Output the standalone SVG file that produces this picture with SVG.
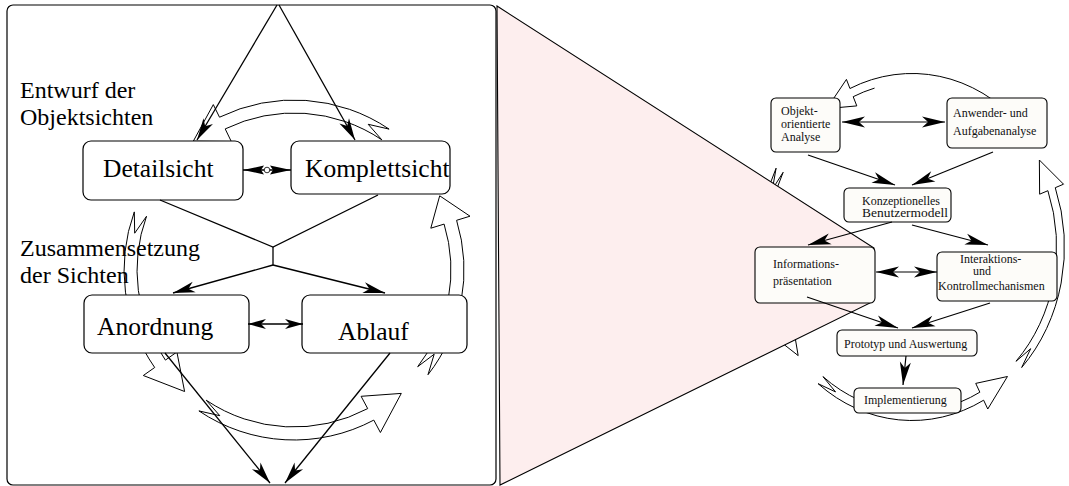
<svg xmlns="http://www.w3.org/2000/svg" width="1069" height="486" viewBox="0 0 1069 486">
  <style>
    .frame { fill: #ffffff; stroke: #000; stroke-width: 1.2; }
    .box { fill: #ffffff; stroke: #000; stroke-width: 1.2; }
    .sbox { fill: #fdfcf9; stroke: #000; stroke-width: 1.1; }
    .big { font-family: "Liberation Serif", "Times New Roman", serif; font-size: 25.5px; fill: #000; }
    .side { font-family: "Liberation Serif", "Times New Roman", serif; font-size: 24px; fill: #000; }
    .small { font-family: "Liberation Serif", "Times New Roman", serif; font-size: 12px; fill: #111; }
    .cyc { fill: none; stroke: #000; stroke-width: 1; stroke-linejoin: miter; }
    .ln { fill: none; stroke: #000; stroke-width: 1.3; }
    .lnr { fill: none; stroke: #000; stroke-width: 1.2; }
    .zoom { fill: #fdeeee; stroke: #000; stroke-width: 1.1; }
  </style>
  <defs>
    <marker id="ah" viewBox="-24 -8 26 16" markerWidth="26" markerHeight="16" refX="0" refY="0" orient="auto-start-reverse" markerUnits="userSpaceOnUse">
      <path d="M0,0 L-22,-5.5 L-16,0 L-22,5.5 Z" fill="#000"/>
    </marker>
    <marker id="ahD" viewBox="-24 -8 26 16" markerWidth="26" markerHeight="16" refX="0" refY="0" orient="auto-start-reverse" markerUnits="userSpaceOnUse">
      <path d="M0,0 L-21,-4.5 L-18,0 L-21,4.5 Z" fill="#000"/>
    </marker>
    <marker id="ahS" viewBox="-20 -8 22 16" markerWidth="22" markerHeight="16" refX="0" refY="0" orient="auto-start-reverse" markerUnits="userSpaceOnUse">
      <path d="M0,0 L-18,-5 L-13,0 L-18,5 Z" fill="#000"/>
    </marker>
    <marker id="ahR" viewBox="-26 -8 28 16" markerWidth="28" markerHeight="16" refX="0" refY="0" orient="auto-start-reverse" markerUnits="userSpaceOnUse">
      <path d="M0,0 L-23,-5.5 L-17,0 L-23,5.5 Z" fill="#000"/>
    </marker>
  </defs>

  <!-- detail panel frame -->
  <rect id="panel" class="frame" x="7" y="5" width="489" height="480" rx="6"/>

  <!-- iteration cycle of the detail panel: broad hollow arrows -->
  <g id="cycle-left" transform="translate(294,270)">
    <path class="cyc" d="M95.1,-140.9 A170,170 0 0 0 -74.5,-152.8 L-80.7,-165.4 L-100.7,-128.8 L-62.7,-128.5 L-68.8,-141.1 A157,157 0 0 1 87.8,-130.2 L74.2,-145.7 Z"/>
    <path class="cyc" d="M134.0,104.7 A170,170 0 0 0 162.6,-49.7 L176.0,-53.8 L145.7,-74.2 L136.8,-41.8 L150.1,-45.9 A157,157 0 0 1 123.7,96.7 L140.2,84.2 Z"/>
    <path class="cyc" d="M-95.1,140.9 A170,170 0 0 0 79.8,150.1 L86.4,162.5 L107.3,123.4 L67.1,126.3 L73.7,138.6 A157,157 0 0 1 -87.8,130.2 L-74.2,145.7 Z"/>
    <path class="cyc" d="M-159.7,-58.1 A170,170 0 0 0 -139.3,97.5 L-150.7,105.5 L-109.4,121.5 L-117.1,82.0 L-128.6,90.1 A157,157 0 0 1 -147.5,-53.7 L-159.3,-36.8 Z"/>
  </g>

  <!-- iteration cycle of the process overview -->
  <g id="cycle-right" transform="translate(912,247) scale(0.879,1)">
    <path class="cyc" vector-effect="non-scaling-stroke" d="M122.7,-122.7 A173.5,173.5 0 0 0 -70.6,-158.5 L-74.6,-167.6 L-96.9,-138.4 L-62.8,-141.1 L-66.9,-150.3 A164.5,164.5 0 0 1 -42.6,-158.9"/>
    <path class="cyc" vector-effect="non-scaling-stroke" d="M124.8,120.5 A173.5,173.5 0 0 0 163.0,-59.3 L172.4,-62.8 L144.9,-87.0 L145.2,-52.8 L154.6,-56.3 A164.5,164.5 0 0 1 118.3,114.3 L135.0,101.7 Z"/>
    <path class="cyc" vector-effect="non-scaling-stroke" d="M-106.8,136.7 A173.5,173.5 0 0 0 81.5,153.2 L86.2,162.0 L108.6,129.5 L72.5,136.4 L77.2,145.2 A164.5,164.5 0 0 1 -101.3,129.6 L-87.0,144.9 Z"/>
    <path class="cyc" vector-effect="non-scaling-stroke" d="M-154.6,-78.8 A173.5,173.5 0 0 0 -153.2,81.5 L-162.0,86.2 L-129.5,108.6 L-136.4,72.5 L-145.2,77.2 A164.5,164.5 0 0 1 -146.6,-74.7 L-158.8,-57.8 Z"/>
  </g>

  <!-- magnification wedge -->
  <polygon id="zoom-wedge" class="zoom" points="497,6 874,248 870,303 500,485"/>

  <!-- side labels of the detail panel -->
  <g id="label-entwurf">
    <text class="side" x="20" y="98">Entwurf der</text>
    <text class="side" x="20" y="125">Objektsichten</text>
  </g>
  <g id="label-zusammensetzung">
    <text class="side" x="20" y="256">Zusammensetzung</text>
    <text class="side" x="20" y="283">der Sichten</text>
  </g>

  <!-- detail panel nodes -->
  <g id="detailsicht">
    <rect class="box" x="83" y="141" width="160" height="59" rx="8"/>
    <text class="big" x="103" y="177">Detailsicht</text>
  </g>
  <g id="komplettsicht">
    <rect class="box" x="291" y="141" width="159" height="53" rx="8"/>
    <text class="big" x="305" y="177">Komplettsicht</text>
  </g>
  <g id="anordnung">
    <rect class="box" x="84" y="295" width="165" height="58" rx="8"/>
    <text class="big" x="97" y="335">Anordnung</text>
  </g>
  <g id="ablauf">
    <rect class="box" x="302" y="295" width="165" height="58" rx="8"/>
    <text class="big" x="338" y="340">Ablauf</text>
  </g>

  <!-- process overview nodes -->
  <g id="objektorientierte-analyse">
    <rect class="sbox" x="771" y="98" width="69" height="54" rx="5"/>
    <text class="small" x="781" y="115">Objekt-</text>
    <text class="small" x="781" y="128">orientierte</text>
    <text class="small" x="781" y="141">Analyse</text>
  </g>
  <g id="anwenderanalyse">
    <rect class="sbox" x="947" y="98" width="100" height="50" rx="5"/>
    <text class="small" x="953" y="117">Anwender- und</text>
    <text class="small" x="953" y="135">Aufgabenanalyse</text>
  </g>
  <g id="benutzermodell">
    <rect class="sbox" x="844" y="188" width="107" height="34" rx="5"/>
    <text class="small" x="862" y="205">Konzeptionelles</text>
    <text class="small" x="862" y="217" textLength="86" lengthAdjust="spacingAndGlyphs">Benutzermodell</text>
  </g>
  <g id="informationspraesentation">
    <rect class="sbox" x="755" y="247" width="120" height="56" rx="5"/>
    <text class="small" x="773" y="268">Informations-</text>
    <text class="small" x="773" y="285">präsentation</text>
  </g>
  <g id="interaktion">
    <rect class="sbox" x="937" y="252" width="120" height="49" rx="5"/>
    <text class="small" x="960" y="263">Interaktions-</text>
    <text class="small" x="973" y="275">und</text>
    <text class="small" x="938" y="290">Kontrollmechanismen</text>
  </g>
  <g id="prototyp">
    <rect class="sbox" x="837" y="330" width="140" height="26" rx="5"/>
    <text class="small" x="844" y="348">Prototyp und Auswertung</text>
  </g>
  <g id="implementierung">
    <rect class="sbox" x="854" y="388" width="107" height="25" rx="5"/>
    <text class="small" x="864" y="404">Implementierung</text>
  </g>

  <!-- connectors -->
  <g id="connectors">
    <!-- detail panel -->
    <line class="ln" x1="277" y1="5" x2="197" y2="140" marker-end="url(#ah)"/>
    <line class="ln" x1="279" y1="5" x2="355" y2="140" marker-end="url(#ah)"/>
    <polyline class="ln" points="160,200 273,247 378,195"/>
    <line class="ln" x1="273" y1="247" x2="273" y2="265"/>
    <line class="ln" x1="273" y1="265" x2="173" y2="293" marker-end="url(#ah)"/>
    <line class="ln" x1="273" y1="265" x2="385" y2="293" marker-end="url(#ah)"/>
    <line class="ln" x1="243" y1="170" x2="291" y2="170" marker-start="url(#ahD)" marker-end="url(#ahD)"/>
    <circle cx="267" cy="170" r="2.8" fill="#fff" stroke="#000" stroke-width="0.8"/>
    <line class="ln" x1="248" y1="324" x2="303" y2="324" stroke="#555" marker-start="url(#ahS)" marker-end="url(#ahS)"/>
    <line class="ln" x1="165" y1="353" x2="270" y2="483" marker-end="url(#ah)"/>
    <line class="ln" x1="390" y1="353" x2="285" y2="483" marker-end="url(#ah)"/>
    <!-- process overview -->
    <line class="lnr" x1="842" y1="122" x2="945" y2="122" marker-start="url(#ahR)" marker-end="url(#ahR)"/>
    <line class="lnr" x1="808" y1="155" x2="895" y2="185" marker-end="url(#ahR)"/>
    <line class="lnr" x1="993" y1="152" x2="912" y2="185" marker-end="url(#ahR)"/>
    <line class="lnr" x1="892" y1="222" x2="808" y2="245" marker-end="url(#ahR)"/>
    <line class="lnr" x1="912" y1="225" x2="988" y2="245" marker-end="url(#ahR)"/>
    <line class="lnr" x1="876" y1="272" x2="937" y2="272" marker-start="url(#ahR)" marker-end="url(#ahR)"/>
    <line class="lnr" x1="807" y1="297" x2="898" y2="328" marker-end="url(#ahR)"/>
    <line class="lnr" x1="990" y1="303" x2="912" y2="328" marker-end="url(#ahR)"/>
    <line class="lnr" x1="906" y1="356" x2="903" y2="385" marker-end="url(#ahR)"/>
  </g>
</svg>
